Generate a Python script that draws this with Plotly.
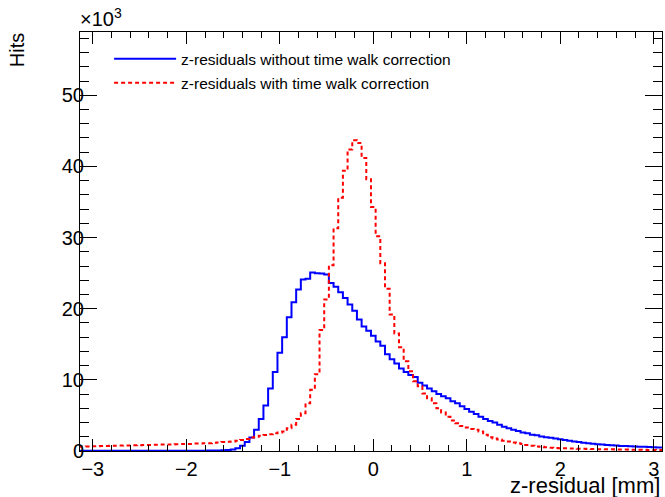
import numpy as np
import plotly.graph_objects as go

# bin centers (mm), bin width 0.05 mm
bin_centers = np.round(np.arange(-3.15, 3.1001, 0.05), 2)

# hits in units of 10^3 per bin
hits_without_tw = [
    0.02, 0.02, 0.02, 0.02, 0.02, 0.02, 0.02, 0.02, 0.02, 0.02,
    0.02, 0.02, 0.02, 0.02, 0.02, 0.02, 0.02, 0.02, 0.02, 0.02,
    0.02, 0.02, 0.02, 0.03, 0.03, 0.04, 0.04, 0.05, 0.06, 0.07,
    0.08, 0.10, 0.14, 0.22, 0.40, 0.75, 1.25, 1.9, 3.0, 4.5,
    6.4, 8.8, 11.1, 13.8, 16.0, 18.8, 20.9, 22.7, 24.1, 24.2,
    25.1, 25.0, 24.95, 24.8, 23.6, 23.1, 22.3, 21.5, 20.6, 19.7,
    18.5, 17.5, 16.9, 16.2, 15.4, 14.8, 13.6, 12.9, 12.3, 11.6,
    11.1, 10.7, 10.4, 9.6, 9.2, 8.8, 8.4, 8.0, 7.7, 7.4,
    7.0, 6.7, 6.3, 5.9, 5.5, 5.2, 4.8, 4.5, 4.2, 4.0,
    3.7, 3.4, 3.2, 3.0, 2.8, 2.6, 2.5, 2.3, 2.2, 2.05,
    1.95, 1.85, 1.75, 1.65, 1.55, 1.45, 1.35, 1.27, 1.17, 1.08,
    1.03, 0.95, 0.90, 0.86, 0.81, 0.77, 0.72, 0.70, 0.68, 0.65,
    0.61, 0.60, 0.56, 0.53, 0.50, 0.48,
]

hits_with_tw = [
    0.60, 0.62, 0.64, 0.66, 0.68, 0.70, 0.72, 0.73, 0.75, 0.76,
    0.77, 0.79, 0.80, 0.82, 0.83, 0.85, 0.87, 0.88, 0.90, 0.92,
    0.93, 0.95, 0.97, 1.0, 1.0, 1.05, 1.05, 1.1, 1.1, 1.15,
    1.2, 1.25, 1.3, 1.35, 1.45, 1.55, 1.7, 1.9, 2.0, 2.15,
    2.25, 2.35, 2.5, 2.6, 2.75, 3.2, 3.7, 4.5, 5.3, 6.7,
    8.6, 10.8, 17.0, 21.3, 26.1, 31.3, 35.6, 39.4, 42.4, 43.7,
    43.3, 41.2, 38.2, 34.3, 30.2, 26.4, 22.8, 19.2, 16.5, 14.6,
    12.6, 11.2, 9.8, 9.1, 8.1, 7.4, 6.7, 6.0, 5.4, 4.8,
    4.3, 3.9, 3.5, 3.3, 3.1, 3.0, 2.75, 2.3, 1.95, 1.75,
    1.6, 1.45, 1.35, 1.2, 1.1, 1.0, 0.85, 0.75, 0.65, 0.58,
    0.52, 0.47, 0.43, 0.40, 0.38, 0.36, 0.34, 0.32, 0.30, 0.29,
    0.27, 0.26, 0.25, 0.24, 0.23, 0.22, 0.21, 0.20, 0.19, 0.18,
    0.17, 0.16, 0.15, 0.15, 0.14, 0.14,
]

series_names = [
    "z-residuals without time walk correction",
    "z-residuals with time walk correction",
]

FONT = "Liberation Sans, Arial, Helvetica, sans-serif"

fig = go.Figure()
fig.add_trace(go.Scatter(
    x=bin_centers, y=hits_without_tw, mode="lines", line_shape="hvh",
    line=dict(color="rgb(0,0,255)", width=2),
    name=series_names[0], legendgroup="a",
))
fig.add_trace(go.Scatter(
    x=bin_centers, y=hits_with_tw, mode="lines", line_shape="hvh",
    line=dict(color="rgb(255,0,0)", width=2, dash="4px,3px"),
    name=series_names[1], legendgroup="b",
))

axis_common = dict(
    showline=True, linecolor="black", linewidth=1, mirror="allticks",
    ticks="inside", tickcolor="black", tickwidth=1,
    showgrid=False, zeroline=False,
    tickfont=dict(family=FONT, size=20, color="black"),
)

fig.update_xaxes(
    range=[-3.137, 3.088], tickmode="linear", tick0=0, dtick=1, ticklen=12,
    minor=dict(dtick=0.2, ticklen=6, ticks="inside", tickcolor="black", showgrid=False),
    **axis_common,
)
fig.update_yaxes(
    range=[0, 58.9], tickmode="linear", tick0=0, dtick=10, ticklen=17,
    ticklabelstandoff=-9,
    minor=dict(dtick=2, ticklen=9, ticks="inside", tickcolor="black", showgrid=False),
    **axis_common,
)

fig.update_layout(
    width=665, height=497,
    margin=dict(l=80, r=3, t=32, b=46),
    paper_bgcolor="white", plot_bgcolor="white",
    font=dict(family=FONT, color="black"),
    showlegend=True,
    legend=dict(
        x=0.05, y=0.976, xanchor="left", yanchor="top",
        font=dict(family=FONT, size=15.5, color="black"),
        bgcolor="rgba(0,0,0,0)", tracegroupgap=1,
        traceorder="grouped", itemwidth=62,
    ),
    annotations=[
        dict(text="×10<sup>3</sup>", xref="paper", yref="paper", x=-0.003, y=1.0,
             xanchor="left", yanchor="bottom", showarrow=False,
             font=dict(family=FONT, size=20, color="black")),
        dict(text="Hits", xref="paper", yref="paper", x=-0.108, y=0.957,
             xanchor="center", yanchor="middle", textangle=-90, showarrow=False,
             font=dict(family=FONT, size=20, color="black")),
        dict(text="z-residual [mm]", xref="paper", yref="paper", x=1.0, y=-0.082,
             xanchor="right", yanchor="middle", showarrow=False,
             font=dict(family=FONT, size=22, color="black")),
    ],
)

fig.write_html("out.html")
